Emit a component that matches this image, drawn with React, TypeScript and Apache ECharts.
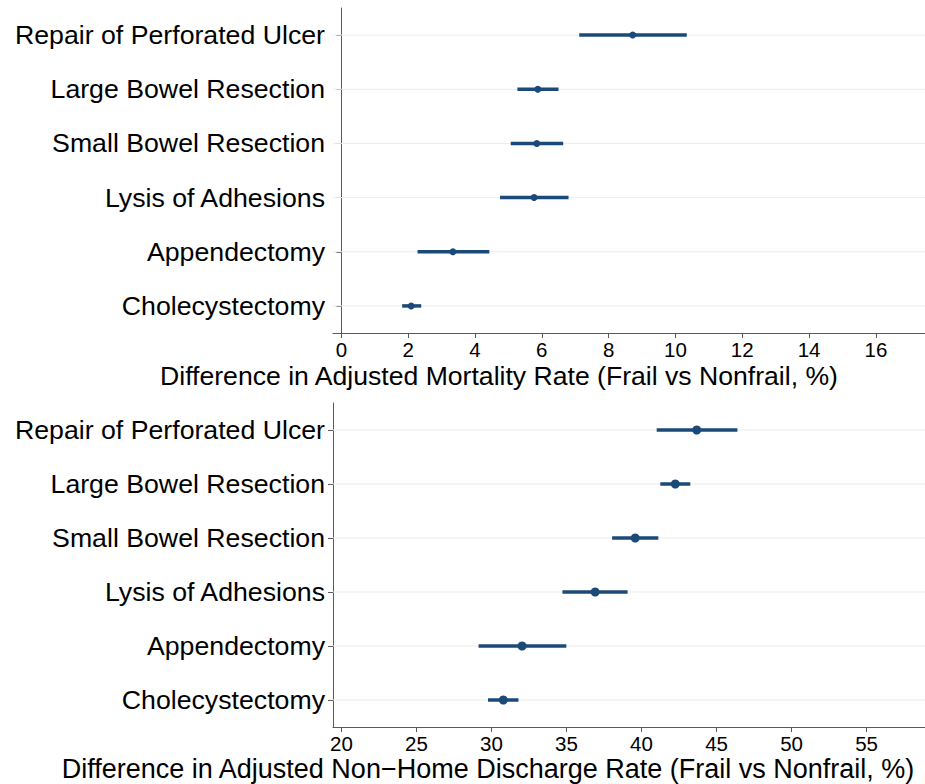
import React, { useEffect, useRef } from "react";
import * as echarts from "echarts";

const procedures = [
  "Repair of Perforated Ulcer",
  "Large Bowel Resection",
  "Small Bowel Resection",
  "Lysis of Adhesions",
  "Appendectomy",
  "Cholecystectomy",
];

const mortalityEst = [8.72, 5.88, 5.85, 5.77, 3.34, 2.09];
const mortalityLow = [7.12, 5.27, 5.07, 4.75, 2.28, 1.82];
const mortalityHigh = [10.34, 6.5, 6.64, 6.8, 4.43, 2.39];

const dischargeEst = [43.68, 42.25, 39.58, 36.91, 32.04, 30.79];
const dischargeLow = [41.01, 41.25, 38.04, 34.73, 29.14, 29.77];
const dischargeHigh = [46.39, 43.25, 41.12, 39.07, 34.99, 31.8];

const mortalityTicks = [0, 2, 4, 6, 8, 10, 12, 14, 16];
const dischargeTicks = [20, 25, 30, 35, 40, 45, 50, 55];

const mortalityTitle = "Difference in Adjusted Mortality Rate (Frail vs Nonfrail, %)";
const dischargeTitle = "Difference in Adjusted Non\u2212Home Discharge Rate (Frail vs Nonfrail, %)";

const COLOR = "#1b4a79";
const AXIS = "#5a5a5a";
const GRIDLINE = "#ebebeb";
const FONT = "'Liberation Sans', Arial, Helvetica, sans-serif";

function renderCI(params: any, api: any) {
  const cat = api.value(0);
  const lo = api.coord([api.value(1), cat]);
  const hi = api.coord([api.value(2), cat]);
  const cs = params.coordSys;
  return {
    type: "group",
    children: [
      {
        type: "line",
        shape: { x1: cs.x, y1: lo[1], x2: cs.x + cs.width, y2: lo[1] },
        style: { stroke: GRIDLINE, lineWidth: 1 },
        z2: 0,
      },
      {
        type: "line",
        shape: { x1: lo[0], y1: lo[1], x2: hi[0], y2: hi[1] },
        style: { stroke: COLOR, lineWidth: 3.5 },
        z2: 1,
      },
    ],
  };
}

function xAxisCfg(gridIndex: number, min: number, max: number, ticks: number[]) {
  return {
    type: "value",
    gridIndex,
    min,
    max,
    splitLine: { show: false },
    axisLine: { show: true, lineStyle: { color: AXIS, width: 1 } },
    axisTick: { show: true, length: 5, lineStyle: { color: AXIS }, customValues: ticks },
    axisLabel: {
      customValues: ticks,
      fontSize: 20.5,
      color: "#000",
      fontFamily: FONT,
      margin: 6,
    },
  };
}

function yAxisCfg(gridIndex: number) {
  return {
    type: "category",
    gridIndex,
    data: procedures,
    inverse: true,
    boundaryGap: true,
    splitLine: { show: false },
    axisLine: { show: true, lineStyle: { color: AXIS, width: 1 } },
    axisTick: { show: true, length: 5, alignWithLabel: true, lineStyle: { color: AXIS } },
    axisLabel: { fontSize: 26.7, color: "#000", fontFamily: FONT, margin: 8 },
  };
}

export default function App() {
  const ref = useRef<HTMLDivElement>(null);

  useEffect(() => {
    if (!ref.current) return;
    const chart = echarts.init(ref.current, undefined, { renderer: "svg" });

    const mortCI = procedures.map((_, i) => [i, mortalityLow[i], mortalityHigh[i]]);
    const mortPts = procedures.map((_, i) => [mortalityEst[i], i]);
    const disCI = procedures.map((_, i) => [i, dischargeLow[i], dischargeHigh[i]]);
    const disPts = procedures.map((_, i) => [dischargeEst[i], i]);

    chart.setOption({
      animation: false,
      backgroundColor: "#fff",
      grid: [
        { left: 333, top: 8, width: 592, height: 325, containLabel: false },
        { left: 333, top: 403, width: 592, height: 324, containLabel: false },
      ],
      xAxis: [
        xAxisCfg(0, -0.25, 17.47, mortalityTicks),
        xAxisCfg(1, 19.44, 58.89, dischargeTicks),
      ],
      yAxis: [yAxisCfg(0), yAxisCfg(1)],
      series: [
        {
          type: "custom",
          xAxisIndex: 0,
          yAxisIndex: 0,
          renderItem: renderCI,
          encode: { x: [1, 2], y: 0 },
          data: mortCI,
          z: 1,
        },
        {
          type: "scatter",
          xAxisIndex: 0,
          yAxisIndex: 0,
          data: mortPts,
          symbol: "circle",
          symbolSize: 7,
          itemStyle: { color: COLOR, opacity: 1 },
          z: 2,
        },
        {
          type: "custom",
          xAxisIndex: 1,
          yAxisIndex: 1,
          renderItem: renderCI,
          encode: { x: [1, 2], y: 0 },
          data: disCI,
          z: 1,
        },
        {
          type: "scatter",
          xAxisIndex: 1,
          yAxisIndex: 1,
          data: disPts,
          symbol: "circle",
          symbolSize: 9,
          itemStyle: { color: COLOR, opacity: 1 },
          z: 2,
        },
      ],
      graphic: [
        {
          type: "text",
          x: 499,
          y: 375.5,
          style: {
            text: mortalityTitle,
            fontSize: 26.6,
            fontFamily: FONT,
            fill: "#000",
            align: "center",
            verticalAlign: "middle",
          },
        },
        {
          type: "text",
          x: 488,
          y: 768.5,
          style: {
            text: dischargeTitle,
            fontSize: 27,
            fontFamily: FONT,
            fill: "#000",
            align: "center",
            verticalAlign: "middle",
          },
        },
      ],
    });

    return () => chart.dispose();
  }, []);

  return (
    <div
      ref={ref}
      style={{ position: "absolute", left: 0, top: 0, width: 925, height: 784 }}
    />
  );
}
